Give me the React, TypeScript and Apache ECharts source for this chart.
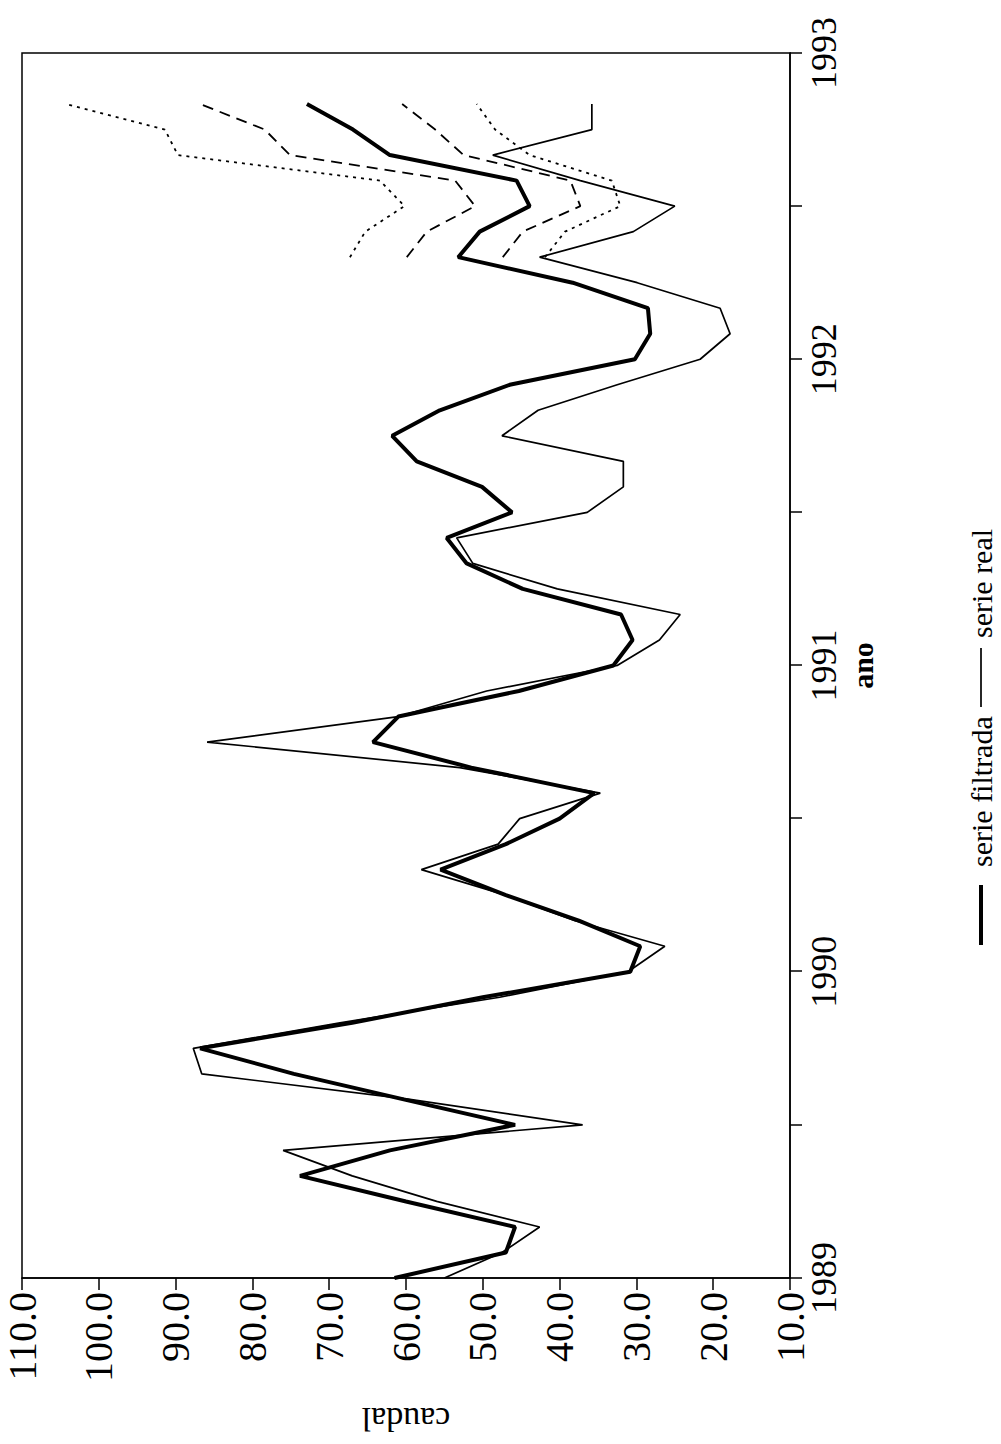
import React, { useEffect, useRef } from "react";
import * as echarts from "echarts";

// Monthly series starting January 1989 (index 0) — caudal values
const START_YEAR = 1989;

const serieFiltrada = [
  61.5, 47, 45.8, 60, 73.8, 62.1, 45.8, 60.3, 74.6, 86.8, 67, 50,
  30.8, 29.5, 37.5, 47, 55.5, 47, 40, 35.5, 51.5, 64.3, 61, 45.3,
  33, 30.5, 32, 44.8, 52.1, 54.7, 46.2, 50.1, 58.6, 61.8, 55.6, 46.5,
  30.2, 28.2, 28.5, 38.3, 53.2, 50.4, 43.9, 45.6, 62.1, 66.9, 72.9,
];

const serieReal = [
  55, 47.5, 42.6, 56, 67, 76, 37, 59.5, 86.6, 87.7, 68.6, 47.8,
  31.1, 26.3, 38, 47, 58, 48, 45.2, 34.7, 53, 85.9, 61, 49.5,
  32.5, 27, 24.3, 40.3, 51.3, 53.4, 36.4, 31.7, 31.7, 47.5, 42.8, 32.5,
  21.7, 17.8, 19.1, 29.9, 42.6, 30.4, 25, 37.3, 48.7, 35.8, 35.8,
];

// Forecast bands, from month index 40 onwards
const FORECAST_START = 40;
const bandaSupExterna = [67.3, 65.3, 60.2, 63.4, 89.7, 91.4, 104.3];
const bandaSupInterna = [59.9, 57.3, 51, 53.6, 75.1, 78.4, 86.8];
const bandaInfInterna = [47.4, 44.8, 37.3, 38.6, 52.5, 56.2, 60.5];
const bandaInfExterna = [41.9, 39.3, 32.1, 33.2, 43.9, 48.4, 50.8];

const X_MIN = 1989;
const X_MAX = 1993;
const Y_MIN = 10;
const Y_MAX = 110;

const legendLabels = ["serie filtrada", "serie real"];

const FONT = "'Liberation Serif', 'Times New Roman', serif";

function toPairs(values: number[], offset = 0): [number, number][] {
  return values.map((v, i) => [START_YEAR + (i + offset) / 12, v]);
}

function ChartPanel() {
  const ref = useRef<HTMLDivElement>(null);

  useEffect(() => {
    if (!ref.current) return;
    const chart = echarts.init(ref.current, null, { renderer: "svg" });

    const bandSeries = (name: string, values: number[], dash: number[]) => ({
      name,
      type: "line",
      data: toPairs(values, FORECAST_START),
      symbol: "none",
      showSymbol: false,
      lineStyle: { color: "#000", width: 1.8, type: dash },
      z: 2,
    });

    // legend drawn below the time axis: line sample followed by its label
    const legendY = 981;
    const legendGraphic = [
      {
        type: "line",
        shape: { x1: 499, y1: legendY, x2: 559, y2: legendY },
        style: { stroke: "#000", lineWidth: 4 },
      },
      {
        type: "text",
        x: 577,
        y: legendY,
        style: {
          text: legendLabels[0],
          fontFamily: FONT,
          fontSize: 30,
          fill: "#000",
          align: "left",
          verticalAlign: "middle",
        },
      },
      {
        type: "line",
        shape: { x1: 737, y1: legendY, x2: 796, y2: legendY },
        style: { stroke: "#000", lineWidth: 1.7 },
      },
      {
        type: "text",
        x: 806,
        y: legendY,
        style: {
          text: legendLabels[1],
          fontFamily: FONT,
          fontSize: 30,
          fill: "#000",
          align: "left",
          verticalAlign: "middle",
        },
      },
    ];

    chart.setOption({
      animation: false,
      backgroundColor: "#fff",
      grid: {
        left: 163,
        right: 53,
        top: 22,
        bottom: 211,
        show: true,
        borderColor: "#000",
        borderWidth: 1.5,
      },
      graphic: legendGraphic,
      xAxis: {
        type: "value",
        min: X_MIN,
        max: X_MAX,
        interval: 0.5,
        name: "ano",
        nameLocation: "middle",
        nameGap: 57,
        nameTextStyle: {
          fontFamily: FONT,
          fontSize: 30,
          fontWeight: "bold",
          color: "#000",
        },
        axisLine: { show: true, lineStyle: { color: "#000", width: 1.5 } },
        axisTick: { show: true, inside: false, length: 12, lineStyle: { color: "#000", width: 1.5 } },
        axisLabel: {
          margin: 16,
          fontFamily: FONT,
          fontSize: 36,
          color: "#000",
          formatter: (v: number) => (Number.isInteger(v) ? String(v) : ""),
        },
        splitLine: { show: false },
      },
      yAxis: {
        type: "value",
        min: Y_MIN,
        max: Y_MAX,
        interval: 10,
        name: "caudal",
        nameLocation: "middle",
        nameGap: 124,
        nameTextStyle: { fontFamily: FONT, fontSize: 34, color: "#000" },
        axisLine: { show: true, lineStyle: { color: "#000", width: 1.5 } },
        axisTick: { show: true, inside: false, length: 12, lineStyle: { color: "#000", width: 1.5 } },
        axisLabel: {
          margin: 14,
          fontFamily: FONT,
          fontSize: 40,
          color: "#000",
          formatter: (v: number) => v.toFixed(1),
        },
        splitLine: { show: false },
      },
      series: [
        {
          name: legendLabels[0],
          type: "line",
          data: toPairs(serieFiltrada),
          symbol: "none",
          showSymbol: false,
          lineStyle: { color: "#000", width: 4 },
          itemStyle: { color: "#000" },
          z: 4,
        },
        {
          name: legendLabels[1],
          type: "line",
          data: toPairs(serieReal),
          symbol: "none",
          showSymbol: false,
          lineStyle: { color: "#000", width: 1.7 },
          itemStyle: { color: "#000" },
          z: 3,
        },
        bandSeries("banda superior externa", bandaSupExterna, [3, 5]),
        bandSeries("banda superior interna", bandaSupInterna, [11, 7]),
        bandSeries("banda inferior interna", bandaInfInterna, [11, 7]),
        bandSeries("banda inferior externa", bandaInfExterna, [3, 5]),
      ],
    });

    return () => chart.dispose();
  }, []);

  return (
    <div
      ref={ref}
      style={{
        position: "absolute",
        left: 0,
        top: 0,
        width: 1444,
        height: 1001,
        transformOrigin: "0 0",
        transform: "translate(0px, 1444px) rotate(-90deg)",
      }}
    />
  );
}

export default function App() {
  return (
    <div
      style={{
        position: "absolute",
        left: 0,
        top: 0,
        width: 1001,
        height: 1444,
        overflow: "hidden",
        background: "#fff",
      }}
    >
      <ChartPanel />
    </div>
  );
}
